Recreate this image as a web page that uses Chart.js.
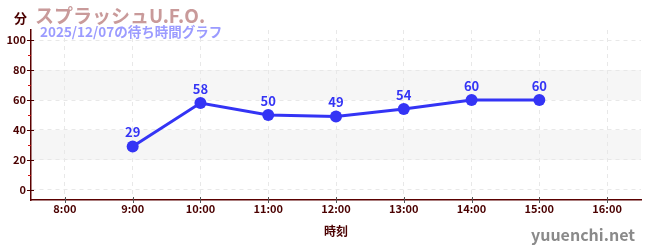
<!DOCTYPE html>
<html><head><meta charset="utf-8">
<script src="https://cdn.jsdelivr.net/npm/chart.js@4/dist/chart.umd.min.js"></script>
<style>html,body{margin:0;padding:0;background:#fff}</style>
</head><body><canvas id="c" width="650" height="250"></canvas>
<script>
const chartTitle = 'スプラッシュU.F.O.';
const chartSubtitle = '2025/12/07の待ち時間グラフ';
const yUnit = '分';
const xTitle = '時刻';
const watermark = 'yuuenchi.net';
const hours = [9, 10, 11, 12, 13, 14, 15];
const waits = [29, 58, 50, 49, 54, 60, 60];
const xTickHours = [8, 9, 10, 11, 12, 13, 14, 15, 16];
const yTickValues = [0, 20, 40, 60, 80, 100];
const yMinorValues = [10, 30, 50, 70, 90];
const bandRanges = [[20, 40], [60, 80]];

const FONT = '"Noto Sans CJK JP", "Noto Sans", sans-serif';
const LINE = '#3434f5';
const DARK = '#4a0000';

const decor = {
  id: 'decor',
  beforeDraw(chart) {
    const {ctx, chartArea: a, scales: {y}} = chart;
    ctx.save();
    ctx.fillStyle = '#f6f6f6';
    bandRanges.forEach(([lo, hi]) => {
      const t = y.getPixelForValue(hi), b = y.getPixelForValue(lo);
      ctx.fillRect(a.left, t, a.right - a.left, b - t);
    });
    ctx.restore();
  },
  afterDatasetsDraw(chart) {
    const {ctx} = chart;
    const meta = chart.getDatasetMeta(0);
    ctx.save();
    ctx.fillStyle = LINE;
    ctx.font = 'bold 13px ' + FONT;
    ctx.textAlign = 'center';
    ctx.textBaseline = 'middle';
    meta.data.forEach((p, i) => {
      ctx.fillText(String(waits[i]), p.x, p.y - 14);
    });
    ctx.restore();
  },
  afterDraw(chart) {
    const {ctx, chartArea: a, scales: {x, y}} = chart;
    ctx.save();
    ctx.strokeStyle = DARK; ctx.lineWidth = 1;
    yTickValues.forEach(v => {
      const py = Math.round(y.getPixelForValue(v)) + 0.5;
      ctx.beginPath(); ctx.moveTo(a.left - 4, py); ctx.lineTo(a.left + 3, py); ctx.stroke();
    });
    ctx.strokeStyle = '#d01010';
    yMinorValues.forEach(v => {
      const py = Math.round(y.getPixelForValue(v)) + 0.5;
      ctx.beginPath(); ctx.moveTo(a.left - 3, py); ctx.lineTo(a.left, py); ctx.stroke();
    });
    ctx.strokeStyle = '#555';
    xTickHours.forEach(v => {
      const px = Math.round(x.getPixelForValue(v)) + 0.5;
      ctx.beginPath(); ctx.moveTo(px, a.bottom - 3); ctx.lineTo(px, a.bottom + 3); ctx.stroke();
    });
    ctx.textBaseline = 'alphabetic';
    ctx.textAlign = 'left';
    ctx.fillStyle = DARK;
    ctx.font = 'bold 13px ' + FONT;
    ctx.fillText(yUnit, 14, 23);
    ctx.fillStyle = '#c99a9a';
    ctx.font = 'bold 19px ' + FONT;
    ctx.fillText(chartTitle, 35, 23);
    ctx.fillStyle = '#9b9bff';
    ctx.font = 'bold 13.5px ' + FONT;
    ctx.fillText(chartSubtitle, 40, 37);
    ctx.fillStyle = '#8a8a8a';
    ctx.font = 'bold 16px ' + FONT;
    ctx.textAlign = 'right';
    ctx.fillText(watermark, 635, 241);
    ctx.restore();
  }
};

new Chart(document.getElementById('c'), {
  type: 'line',
  data: {
    datasets: [{
      data: hours.map((h, i) => ({x: h, y: waits[i]})),
      borderColor: LINE,
      backgroundColor: LINE,
      borderWidth: 3,
      pointRadius: 6,
      pointBackgroundColor: LINE,
      pointBorderColor: LINE,
      pointBorderWidth: 0,
      tension: 0,
      fill: false
    }]
  },
  options: {
    responsive: false,
    animation: false,
    devicePixelRatio: 1,
    layout: {padding: {top: 30, right: 9, left: 0, bottom: 0}},
    plugins: {legend: {display: false}, tooltip: {enabled: false}, title: {display: false}},
    scales: {
      x: {
        type: 'linear', min: 7.5, max: 16.5,
        afterBuildTicks: s => { s.ticks = xTickHours.map(v => ({value: v})); },
        afterFit: s => { s.height = 50; },
        ticks: {color: DARK, font: {family: FONT, size: 11, weight: 'bold'}, padding: 0,
          callback: v => v + ':00'},
        grid: {color: '#e8e8e8', tickColor: 'rgba(0,0,0,0)', tickLength: 2},
        border: {color: '#5a0000', width: 1.5, dash: [4, 4]},
        title: {display: true, text: xTitle, color: DARK, font: {family: FONT, size: 12, weight: 'bold'}, padding: {top: 4, bottom: 11}}
      },
      y: {
        min: -6.67, max: 106.67,
        afterBuildTicks: s => { s.ticks = yTickValues.map(v => ({value: v})); },
        afterFit: s => { s.width = 31; },
        ticks: {color: DARK, font: {family: FONT, size: 11, weight: 'bold'}, padding: 1},
        grid: {color: '#e8e8e8', tickColor: 'rgba(0,0,0,0)', tickLength: 4},
        border: {color: '#5a0000', width: 1.5, dash: [4, 4]}
      }
    }
  },
  plugins: [decor]
});
</script></body></html>
